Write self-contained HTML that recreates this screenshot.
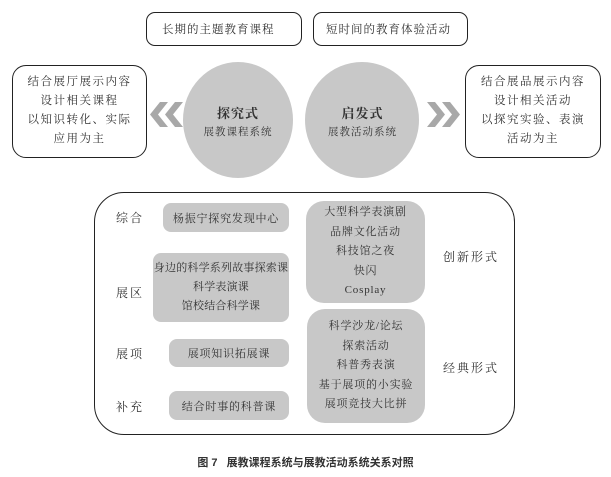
<!DOCTYPE html>
<html><head><meta charset="utf-8"><style>
body{margin:0;width:611px;height:477px;background:#fff;position:relative;overflow:hidden;font-family:"Liberation Serif","Noto Serif CJK SC","Noto Sans CJK SC",serif;color:#333}
.a{position:absolute;box-sizing:border-box;white-space:nowrap}
.ob{border:1.5px solid #222;border-radius:9px;background:#fff}
.g{background:#c8c8c8;border-radius:8px;text-align:center;font-size:11px;letter-spacing:0.8px;display:flex;flex-direction:column;justify-content:center}
.t{font-size:12px;letter-spacing:2px}
</style></head><body>
<div class="a ob" style="left:146px;top:12px;width:156px;height:34px;padding:8px 0 0 15px;font-size:11.5px;letter-spacing:1px">长期的主题教育课程</div>
<div class="a ob" style="left:313px;top:12px;width:155px;height:34px;padding:8px 0 0 12px;font-size:11.5px;letter-spacing:1px">短时间的教育体验活动</div>
<div class="a ob" style="left:12px;top:65px;width:135px;height:93px;border-radius:14px;text-align:center;font-size:11.5px;letter-spacing:1.5px;line-height:19px;padding-top:7px">结合展厅展示内容<br>设计相关课程<br>以知识转化、实际<br>应用为主</div>
<div class="a ob" style="left:465px;top:65px;width:136px;height:93px;border-radius:14px;text-align:center;font-size:11.5px;letter-spacing:1.5px;line-height:19px;padding-top:7px">结合展品展示内容<br>设计相关活动<br>以探究实验、表演<br>活动为主</div>
<svg class="a" style="left:0;top:0" width="611" height="477">
<ellipse cx="238" cy="120" rx="55" ry="58" fill="#c8c8c8"/>
<ellipse cx="362" cy="120" rx="57" ry="58" fill="#c8c8c8"/>
<g fill="#a8a8a8">
<polygon points="160,102 168,102 158,114.5 168,127 160,127 150,114.5"/>
<polygon points="175,102 183,102 173,114.5 183,127 175,127 165,114.5"/>
<polygon points="427,102 435,102 445,114.5 435,127 427,127 437,114.5"/>
<polygon points="442,102 450,102 460,114.5 450,127 442,127 452,114.5"/>
</g>
</svg>
<div class="a" style="left:183px;top:103px;width:110px;text-align:center;font-weight:bold;font-size:13px;letter-spacing:1px">探究式</div>
<div class="a" style="left:183px;top:124px;width:110px;text-align:center;font-size:10.5px;letter-spacing:1px">展教课程系统</div>
<div class="a" style="left:305px;top:103px;width:115px;text-align:center;font-weight:bold;font-size:13px;letter-spacing:1px">启发式</div>
<div class="a" style="left:305px;top:124px;width:115px;text-align:center;font-size:10.5px;letter-spacing:1px">展教活动系统</div>

<div class="a ob" style="left:94px;top:192px;width:421px;height:243px;border-radius:30px"></div>
<div class="a t" style="left:116px;top:209px">综合</div>
<div class="a t" style="left:116px;top:284px">展区</div>
<div class="a t" style="left:116px;top:345px">展项</div>
<div class="a t" style="left:116px;top:398px">补充</div>
<div class="a g" style="left:163px;top:203px;width:126px;height:29px">杨振宁探究发现中心</div>
<div class="a g" style="left:153px;top:253px;width:136px;height:69px;line-height:19px;letter-spacing:0.2px">身边的科学系列故事探索课<br>科学表演课<br>馆校结合科学课</div>
<div class="a g" style="left:169px;top:339px;width:120px;height:28px">展项知识拓展课</div>
<div class="a g" style="left:169px;top:391px;width:120px;height:29px">结合时事的科普课</div>
<div class="a g" style="left:306px;top:201px;width:119px;height:102px;border-radius:18px;line-height:19.5px">大型科学表演剧<br>品牌文化活动<br>科技馆之夜<br>快闪<br>Cosplay</div>
<div class="a g" style="left:307px;top:309px;width:118px;height:114px;border-radius:18px;line-height:19.5px">科学沙龙/论坛<br>探索活动<br>科普秀表演<br>基于展项的小实验<br>展项竞技大比拼</div>
<div class="a t" style="left:443px;top:248px">创新形式</div>
<div class="a t" style="left:443px;top:359px">经典形式</div>
<div class="a" style="left:0;top:454px;width:611px;text-align:center;font-family:'Liberation Sans','Noto Sans CJK SC',sans-serif;font-weight:bold;font-size:11px;color:#333">图 7&nbsp;&nbsp;&nbsp;展教课程系统与展教活动系统关系对照</div>
</body></html>
